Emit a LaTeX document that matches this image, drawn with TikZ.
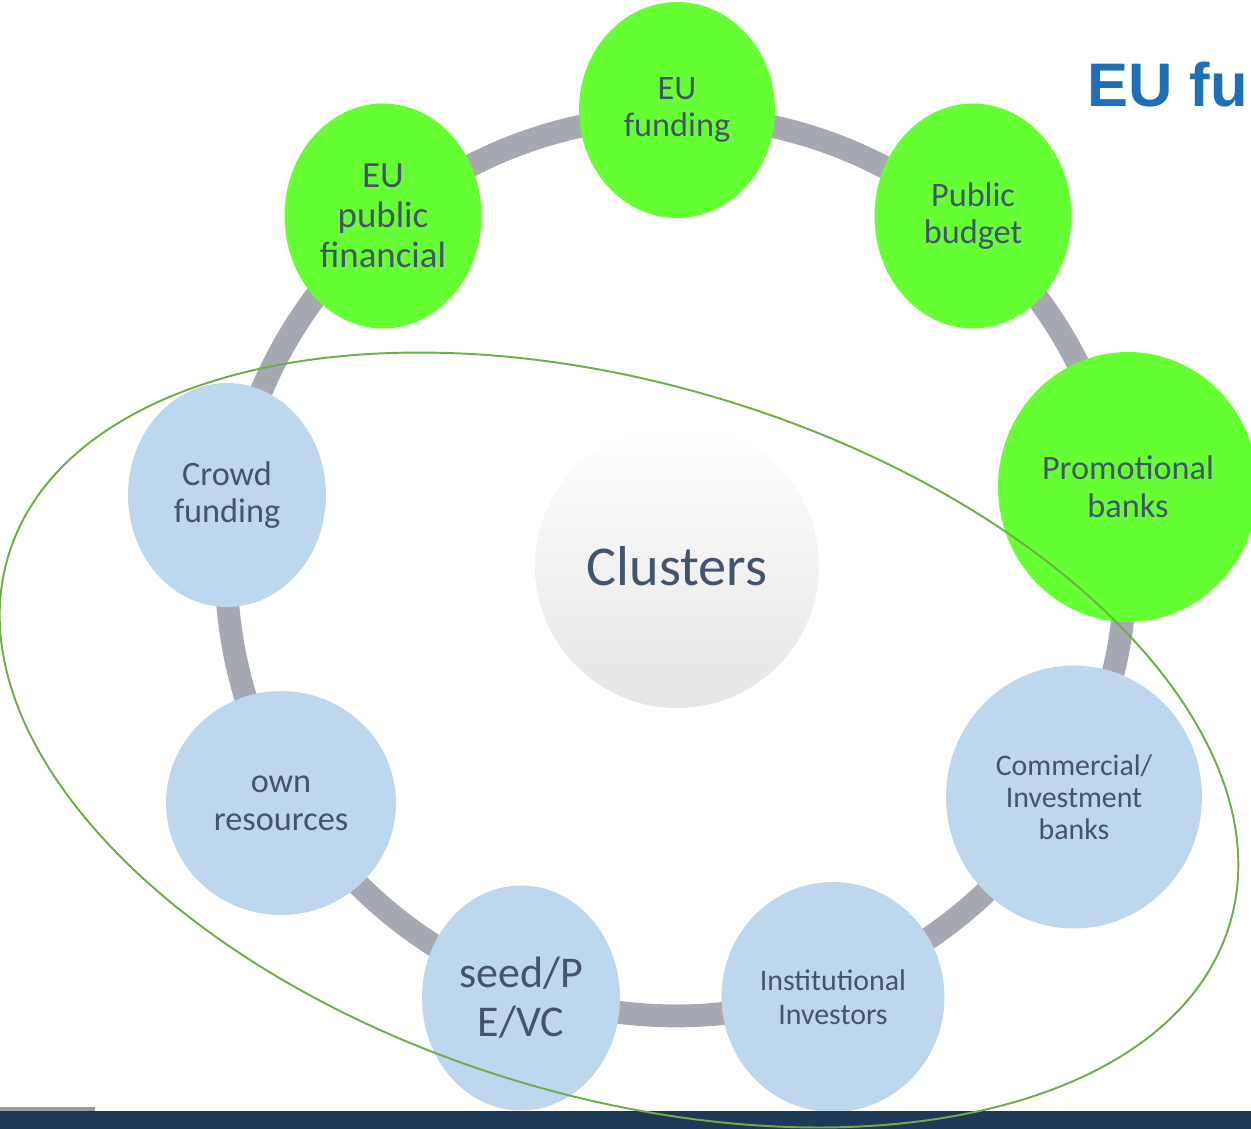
\documentclass[tikz,border=0pt]{standalone}
\usepackage{fontspec}
\setmainfont{Carlito}
\newfontfamily\headfont{Liberation Sans}
\usetikzlibrary{shapes.geometric,positioning}
\definecolor{ringgray}{RGB}{166,168,178}
\definecolor{fundgreen}{RGB}{102,255,51}
\definecolor{privblue}{RGB}{189,215,238}
\definecolor{slatetext}{RGB}{68,84,106}
\definecolor{loopgreen}{RGB}{112,173,71}
\definecolor{titleblue}{RGB}{31,110,185}
\definecolor{footnavy}{RGB}{30,56,88}
\definecolor{footgray}{RGB}{150,156,168}
\tikzstyle{public} = [ellipse, fill=fundgreen, text=slatetext, align=center, inner sep=0pt]
\tikzstyle{private} = [ellipse, fill=privblue, text=slatetext, align=center, inner sep=0pt]
\tikzstyle{ring} = [line width=13pt, draw=ringgray]
\tikzstyle{loop} = [line width=1.1pt, draw=loopgreen]

\begin{document}
\begin{tikzpicture}[x=0.02cm,y=-0.02cm]
\useasboundingbox (0,0) rectangle (1251,1129);
\clip (0,0) rectangle (1251,1129);
% ring behind the sources
\coordinate (hub) at (676,566);
\draw [ring] (hub) circle (9cm);
\node (clusters) [circle, minimum size=5.68cm, inner sep=0pt, top color=white, middle color=white, bottom color=gray!20,
  text=slatetext, font=\fontsize{32}{38}\selectfont] at (677,566) {Clusters};
% public sources
\node (eufund) [public, minimum width=3.92cm, minimum height=4.32cm, font=\fontsize{19.5}{21}\selectfont] at (677,110) {EU\\funding};
\node (eupub) [public, minimum width=3.94cm, minimum height=4.5cm, font=\fontsize{21}{22.7}\selectfont] at (383,216) {EU\\public\\financial};
\node (pubbud) [public, minimum width=3.94cm, minimum height=4.5cm, font=\fontsize{19.5}{21.5}\selectfont] at (973,216) {Public\\budget};
\node (promo) [public, minimum width=5.2cm, minimum height=5.4cm, font=\fontsize{19.5}{21.5}\selectfont] at (1128,487) {Promotional\\banks};
% private sources
\node (crowd) [private, minimum width=3.96cm, minimum height=4.48cm, font=\fontsize{19.5}{21.5}\selectfont] at (227,495) {Crowd\\funding};
\node (own) [private, minimum width=4.6cm, minimum height=4.48cm, font=\fontsize{19.5}{21.5}\selectfont] at (281,803) {own\\resources};
\node (seed) [private, minimum width=3.96cm, minimum height=4.5cm, font=\fontsize{25}{28}\selectfont] at (521,998) {seed/P\\E/VC};
\node (inst) [private, minimum width=4.46cm, minimum height=4.6cm, font=\fontsize{17}{19.3}\selectfont] at (833,997) {Institutional\\Investors};
\node (comm) [private, minimum width=5.12cm, minimum height=5.26cm, font=\fontsize{17}{18.2}\selectfont] at (1074,797) {Commercial/\\Investment\\banks};
% footer band
\fill [footgray] (0,1107) rectangle (95,1112);
\fill [footnavy] (0,1111) rectangle (1251,1129);
% private group outline
\draw [loop, shift={(619,740)}, rotate=-16.8] (0,0) ellipse [x radius=12.76cm, y radius=7.12cm];
\node (title) [anchor=base west, inner sep=0pt, text=titleblue, font=\headfont\bfseries\fontsize{35}{40}\selectfont] at (1087,106) {EU fu};
\end{tikzpicture}
\end{document}
